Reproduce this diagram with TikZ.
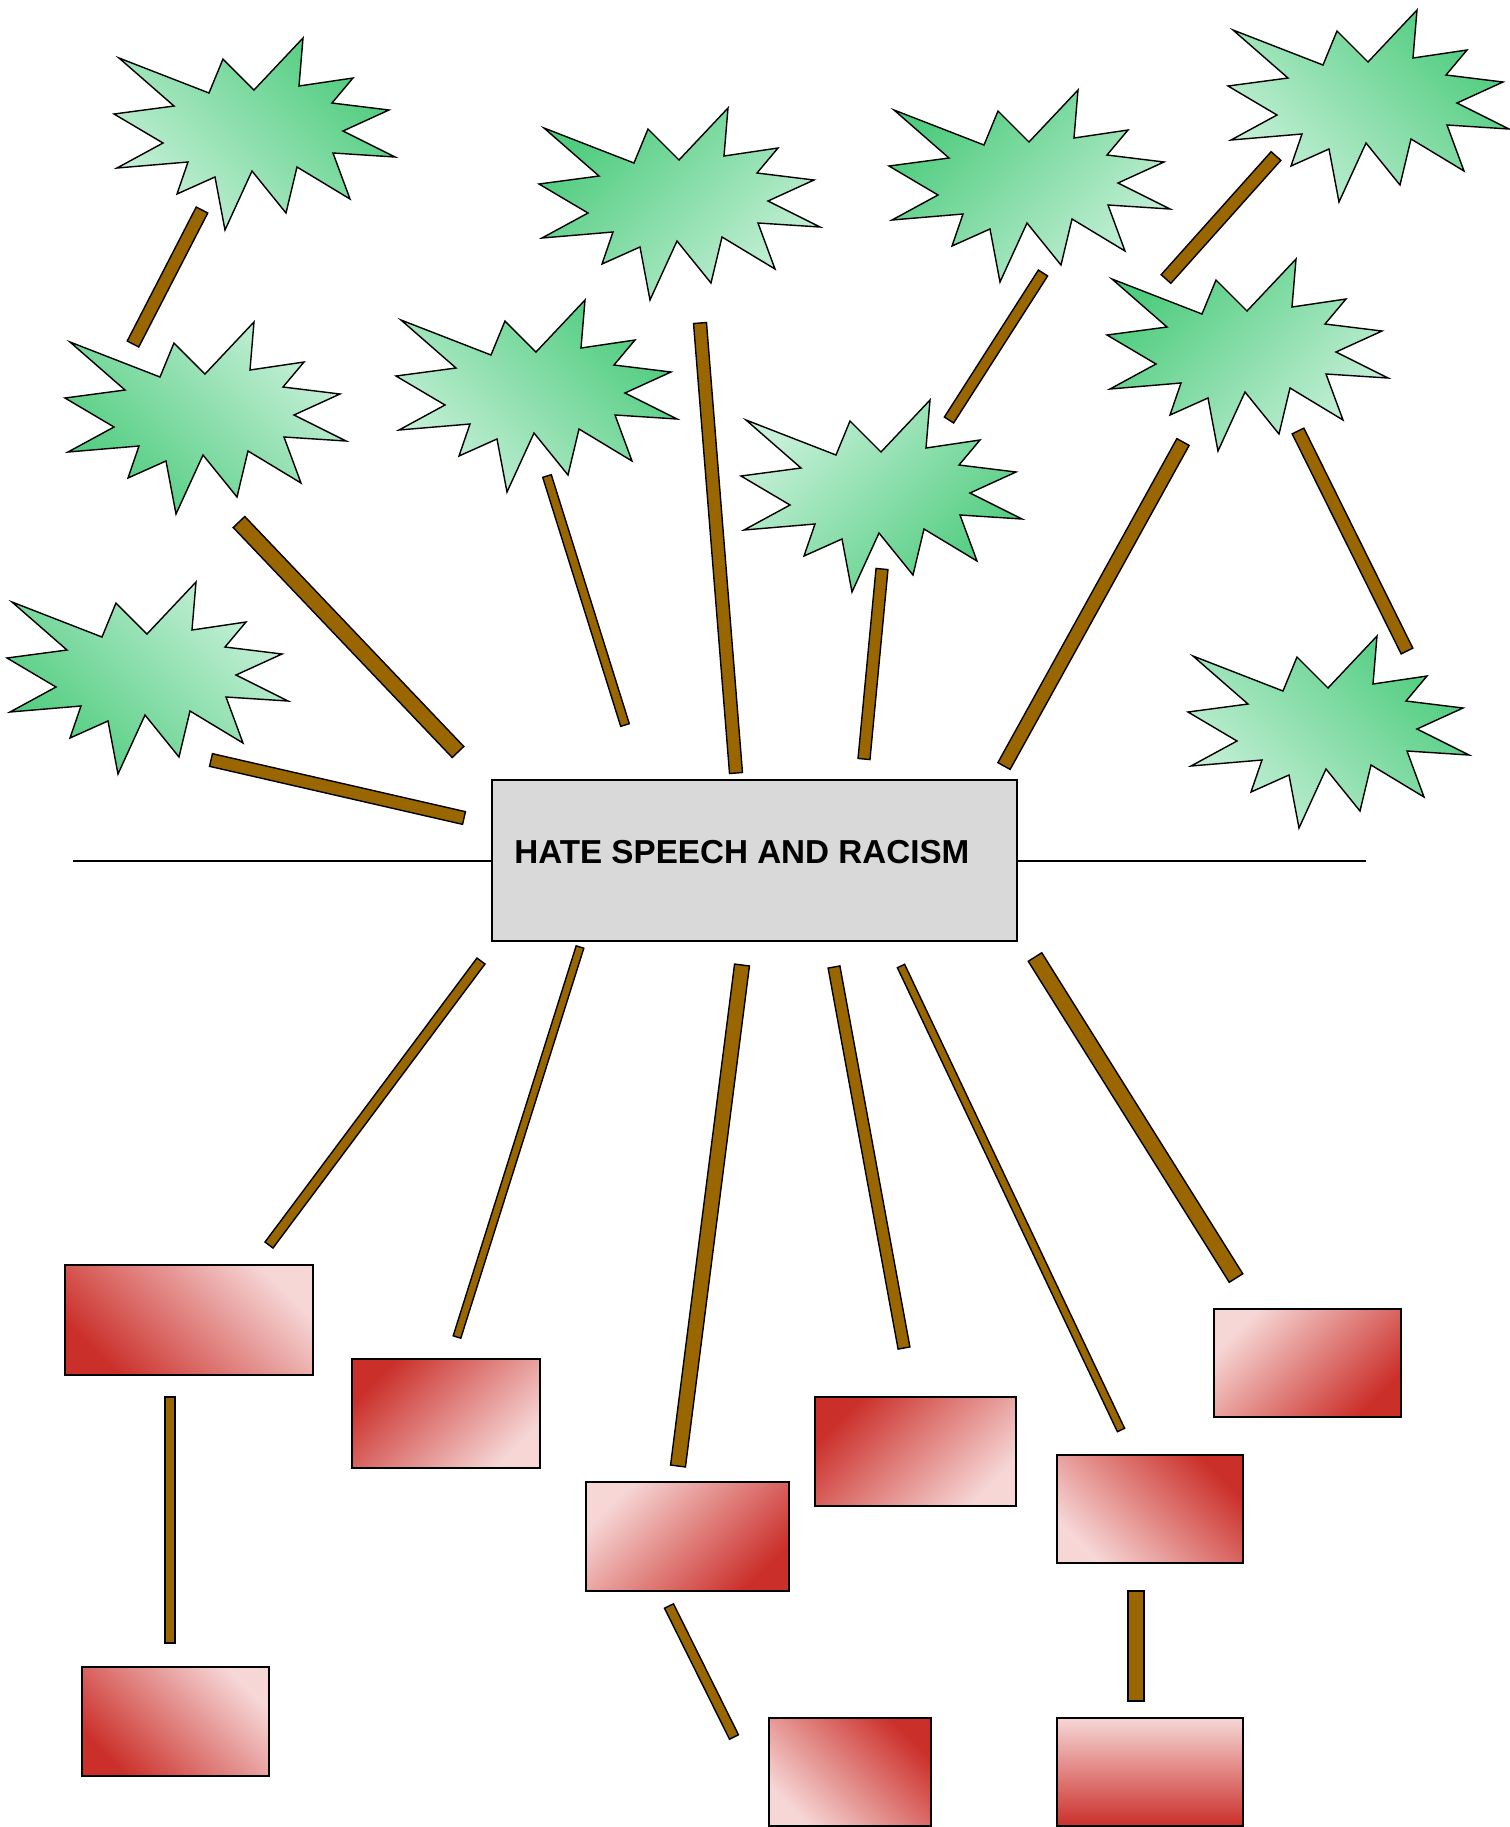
\documentclass[tikz,border=0pt]{standalone}
\usepackage{fontspec}
\usepackage{tikz}
\usetikzlibrary{calc}
\newfontfamily\hubfont{Liberation Sans}
\definecolor{gDark}{HTML}{4FCC7E}
\definecolor{gLight}{HTML}{C6F0D8}
\definecolor{rDark}{HTML}{CB2F2A}
\definecolor{rLight}{HTML}{F6D7D6}
\definecolor{stickBrown}{HTML}{996600}
\definecolor{hubGray}{HTML}{D9D9D9}
\tikzset{
  pics/burst/.style={code={
    \draw[line width=0.8pt, top color=gDark, bottom color=gLight, shading angle=#1]
      (5,20) -- (95,55) -- (109,21) -- (140,52) -- (189,0) -- (185,48) -- (239,40) -- (218,65)
      -- (275,72) -- (229,93) -- (281,119) -- (219,115) -- (236,161) -- (183,129) -- (172,175)
      -- (138,133) -- (111,192) -- (101,139) -- (63,156) -- (74,124) -- (3,130) -- (49,105)
      -- (0,76) -- (60,68) -- cycle;
  }},
  stick/.style={draw=black, line width=0.8pt, fill=stickBrown},
  card/.style={draw=black, line width=1.1pt, top color=rDark, bottom color=rLight, inner sep=0pt},
  hub/.style={draw=black, line width=1.1pt, fill=hubGray, minimum width=10.5cm, minimum height=3.22cm, inner sep=0pt}
}

\begin{document}
\begin{tikzpicture}[x=0.02cm, y=-0.02cm]
  \path[use as bounding box, fill=white] (0,0) rectangle (1510,1827);
  \foreach \nm/\sx/\sy/\ang in {s1/114/38/-45, s2/539/108/45, s3/889/90/45, s4/1228/10/-45,
      s5/65/322/135, s6/396/300/-45, s7/741/400/-135, s8/1107/259/45, s9/7/582/135, s10/1188/636/-45}
    \pic (\nm) at (\sx,\sy) {burst=\ang};
  \foreach \nm/\ax/\ay/\bx/\by/\w in {b1/202/210/133/344/13, b2/239/522/458/752/16, b3/211/760/464/818/13,
      b4/547/476/625/725/9, b5/700/323/736/773/13, b6/882/569/864/759/12, b7/1043/273/949/420/11,
      b8/1276/156/1166/279/13, b9/1183/442/1004/766/14, b10/1298/431/1407/651/13,
      b11/481/961/269/1245/10, b12/580/947/457/1337/8, b13/742/965/678/1466/15, b14/834/967/904/1348/12,
      b15/901/966/1121/1430/8, b16/1035/957/1236/1278/16, b17/170/1397/170/1643/10,
      b18/669/1606/734/1737/10, b19/1136/1591/1136/1701/16}{
    \coordinate (\nm-a) at (\ax,\ay);
    \coordinate (\nm-b) at (\bx,\by);
    \draw[stick] ($(\nm-a)!\w*0.01cm!90:(\nm-b)$) -- ($(\nm-a)!\w*0.01cm!-90:(\nm-b)$)
      -- ($(\nm-b)!\w*0.01cm!90:(\nm-a)$) -- ($(\nm-b)!\w*0.01cm!-90:(\nm-a)$) -- cycle;
  }
  \foreach \nm/\xa/\ya/\xb/\yb/\ang in {r1/65/1265/313/1375/135, r2/352/1359/540/1468/45,
      r3/586/1482/789/1591/-135, r4/815/1397/1016/1506/45, r5/1057/1455/1243/1563/-45,
      r6/1214/1309/1401/1417/-135, r7/82/1667/269/1776/135, r8/769/1718/931/1826/-45,
      r9/1057/1718/1243/1826/180}
    \node[card, minimum width={(\xb-\xa)*0.02cm}, minimum height={(\yb-\ya)*0.02cm}, shading angle=\ang]
      (\nm) at ({(\xa+\xb)/2},{(\ya+\yb)/2}) {};
  \node[hub] (hub) at (754.5,860.5) {};
  \node[font=\hubfont\bfseries\fontsize{18.9}{22}\selectfont, anchor=west, inner sep=0pt] (title) at (514,852) {HATE SPEECH AND RACISM};
  \coordinate (axis-l) at (73,861);
  \coordinate (axis-r) at (1366,861);
  \draw[line width=0.85pt] (axis-l) -- (hub.west |- axis-l);
  \draw[line width=0.85pt] (hub.east |- axis-r) -- (axis-r);
\end{tikzpicture}
\end{document}
